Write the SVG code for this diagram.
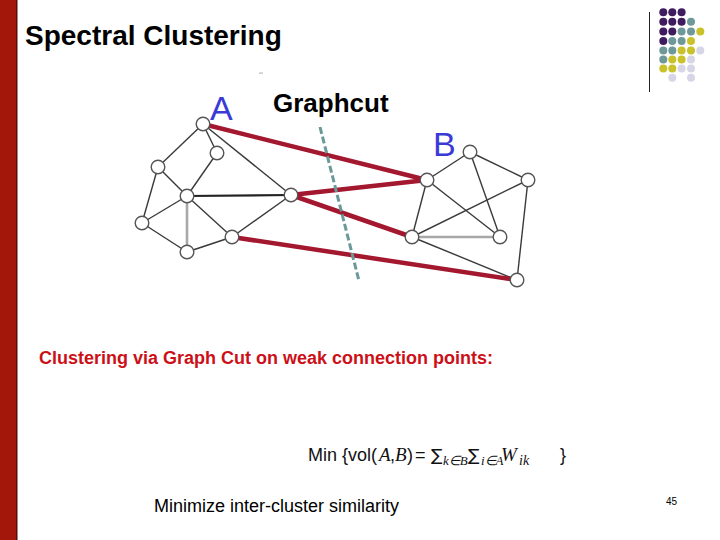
<svg xmlns="http://www.w3.org/2000/svg" width="720" height="540" viewBox="0 0 720 540">
<style>
.e{stroke:#3a3a3a;stroke-width:1.4;fill:none}
.eg{stroke:#a8a8a8;stroke-width:2.6;fill:none}
.ed{stroke:#222;stroke-width:2.2;fill:none}
.cut{stroke:#a3172f;stroke-width:4.5;stroke-linecap:round;fill:none}
.n{fill:#fff;stroke:#555;stroke-width:1.4}
.sans{font-family:"Liberation Sans",Arial,sans-serif}
.it{font-family:"Liberation Serif","Times New Roman",serif;font-style:italic}
.pu{fill:#3f1b5f}.te{fill:#6f9898}.ye{fill:#c9c22b}.la{fill:#d6d6e6}
</style>
<rect width="720" height="540" fill="#fff"/>
<rect x="0" y="0" width="16" height="540" fill="#a3170b"/>
<rect x="16" y="0" width="1.5" height="540" fill="#5a0c06"/>
<text x="25" y="45" class="sans" font-size="28" font-weight="bold" fill="#000">Spectral Clustering</text>
<g id="logo">
<line x1="649.5" y1="12" x2="649.5" y2="92" stroke="#222" stroke-width="1"/>
<circle cx="663.3" cy="12.3" r="4" class="pu"/><circle cx="672.3" cy="12.3" r="4" class="pu"/><circle cx="681.6" cy="12.3" r="4" class="pu"/>
<circle cx="663.3" cy="21.8" r="4" class="pu"/><circle cx="672.3" cy="21.8" r="4" class="pu"/><circle cx="681.6" cy="21.8" r="4" class="pu"/><circle cx="691" cy="21.8" r="4" class="te"/>
<circle cx="663.3" cy="31.5" r="4" class="pu"/><circle cx="672.3" cy="31.5" r="4" class="pu"/><circle cx="681.6" cy="31.5" r="4" class="te"/><circle cx="691" cy="31.5" r="4" class="te"/><circle cx="700.3" cy="31.5" r="4" class="ye"/>
<circle cx="663.3" cy="41" r="4" class="pu"/><circle cx="672.3" cy="41" r="4" class="te"/><circle cx="681.6" cy="41" r="4" class="te"/><circle cx="691" cy="41" r="4" class="ye"/>
<circle cx="663.3" cy="50.6" r="4" class="te"/><circle cx="672.3" cy="50.6" r="4" class="te"/><circle cx="681.6" cy="50.6" r="4" class="ye"/><circle cx="691" cy="50.6" r="4" class="ye"/><circle cx="700.3" cy="50.6" r="4" class="la"/>
<circle cx="663.3" cy="59.5" r="4" class="te"/><circle cx="672.3" cy="59.5" r="4" class="ye"/><circle cx="681.6" cy="59.5" r="4" class="ye"/><circle cx="691" cy="59.5" r="4" class="la"/>
<circle cx="663.3" cy="68.5" r="4" class="ye"/><circle cx="672.3" cy="68.5" r="4" class="ye"/><circle cx="681.6" cy="68.5" r="4" class="la"/><circle cx="691" cy="68.5" r="4" class="la"/>
<circle cx="672.3" cy="77.7" r="4" class="la"/><circle cx="691" cy="77.7" r="4" class="la"/>
</g>
<rect x="259" y="72.5" width="4" height="1.2" fill="#bbb"/>
<g id="connectors">
<line x1="203" y1="124" x2="217" y2="153" class="e"/>
<line x1="203" y1="124" x2="158" y2="167" class="e"/>
<line x1="203" y1="124" x2="291" y2="195" class="e"/>
<line x1="217" y1="153" x2="187" y2="196" class="e"/>
<line x1="158" y1="167" x2="187" y2="196" class="e"/>
<line x1="158" y1="167" x2="142" y2="223" class="e"/>
<line x1="187" y1="196" x2="142" y2="223" class="e"/>
<line x1="187" y1="196" x2="291" y2="195" class="ed"/>
<line x1="187" y1="196" x2="187" y2="252" class="eg"/>
<line x1="187" y1="196" x2="232" y2="237" class="e"/>
<line x1="142" y1="223" x2="187" y2="252" class="e"/>
<line x1="187" y1="252" x2="232" y2="237" class="e"/>
<line x1="232" y1="237" x2="291" y2="195" class="e"/>
<line x1="427" y1="180" x2="470" y2="152" class="e"/>
<line x1="470" y1="152" x2="528" y2="180" class="e"/>
<line x1="470" y1="152" x2="500" y2="237" class="e"/>
<line x1="427" y1="180" x2="500" y2="237" class="e"/>
<line x1="427" y1="180" x2="412" y2="237" class="e"/>
<line x1="412" y1="237" x2="528" y2="180" class="e"/>
<line x1="412" y1="237" x2="500" y2="237" class="eg"/>
<line x1="412" y1="237" x2="517" y2="280" class="e"/>
<line x1="528" y1="180" x2="517" y2="280" class="e"/>
<line x1="203" y1="124" x2="427" y2="180" class="cut"/>
<line x1="291" y1="195" x2="427" y2="180" class="cut"/>
<line x1="291" y1="195" x2="412" y2="237" class="cut"/>
<line x1="232" y1="237" x2="517" y2="280" class="cut"/>
<line x1="320" y1="127" x2="359" y2="281" stroke="#6b9999" stroke-width="3" stroke-dasharray="7,3"/>
</g>
<g id="nodes">
<circle id="a1" cx="203" cy="124" r="6.8" class="n"/>
<circle id="a2" cx="217" cy="153" r="6.8" class="n"/>
<circle id="a3" cx="158" cy="167" r="6.8" class="n"/>
<circle id="a4" cx="187" cy="196" r="6.8" class="n"/>
<circle id="a5" cx="142" cy="223" r="6.8" class="n"/>
<circle id="a6" cx="187" cy="252" r="6.8" class="n"/>
<circle id="a7" cx="232" cy="237" r="6.8" class="n"/>
<circle id="a8" cx="291" cy="195" r="6.8" class="n"/>
<circle id="b1" cx="427" cy="180" r="6.8" class="n"/>
<circle id="b2" cx="470" cy="152" r="6.8" class="n"/>
<circle id="b3" cx="528" cy="180" r="6.8" class="n"/>
<circle id="b4" cx="412" cy="237" r="6.8" class="n"/>
<circle id="b5" cx="500" cy="237" r="6.8" class="n"/>
<circle id="b6" cx="517" cy="280" r="6.8" class="n"/>
</g>
<text x="210" y="120" class="sans" font-size="34" fill="#3a3ad6">A</text>
<text x="433" y="156" class="sans" font-size="34" fill="#3a3ad6">B</text>
<text x="273" y="112" class="sans" font-size="26" font-weight="bold" fill="#000">Graphcut</text>
<text x="39" y="364" class="sans" font-size="18" font-weight="bold" fill="#cc1018">Clustering via Graph Cut on weak connection points:</text>
<text y="461" font-size="18" fill="#111" class="sans"><tspan x="308">Min {vol(</tspan><tspan x="379" class="it" font-size="19">A</tspan><tspan x="390">,</tspan><tspan x="395" class="it" font-size="19">B</tspan><tspan x="407">)</tspan><tspan x="415">=</tspan><tspan x="431" font-family="'DejaVu Sans',sans-serif" font-size="17">∑</tspan><tspan x="443" y="465" font-size="13" class="it">k∈B</tspan><tspan x="468" y="461" font-family="'DejaVu Sans',sans-serif" font-size="17">∑</tspan><tspan x="481" y="465" font-size="13" class="it">i∈A</tspan><tspan x="501" y="461" class="it" font-size="19">W</tspan><tspan x="519" y="465" font-size="14" class="it">ik</tspan><tspan x="560" y="461">}</tspan></text>
<text x="154" y="512" class="sans" font-size="18" fill="#000">Minimize inter-cluster similarity</text>
<text x="666" y="505" class="sans" font-size="10" fill="#000">45</text>
</svg>
